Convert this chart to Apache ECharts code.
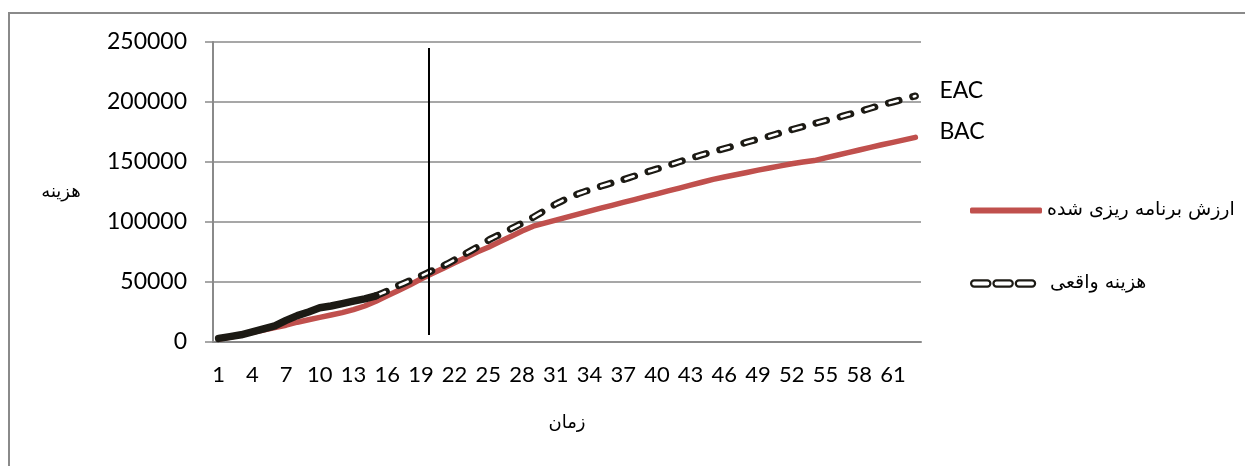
<!DOCTYPE html>
<html>
<head>
<meta charset="utf-8">
<script src="https://cdn.jsdelivr.net/npm/echarts@6/dist/echarts.min.js"></script>
<style>
  html, body { margin: 0; padding: 0; background: #fff; }
  #chart { width: 1245px; height: 466px; }
</style>
</head>
<body>
<div id="chart"></div>
<script>
// time periods 1..63
var periods = [];
for (var p = 1; p <= 63; p++) periods.push(String(p));

// planned value (BAC at the end)
var planned = [2500, 4000, 6000, 8000, 10000, 12000, 14000, 16500, 18500, 20500,
    22500, 24500, 27000, 30000, 34000, 38500, 43000, 47500, 52500, 57000,
    61500, 66000, 70500, 75000, 79000, 83500, 88000, 92500, 96500, 99000,
    101500, 104000, 106500, 109000, 111500, 113900, 116300, 118700, 121100, 123500,
    125900, 128300, 130700, 133100, 135500, 137500, 139400, 141300, 143200, 145000,
    146800, 148600, 150000, 151200, 153400, 155600, 157800, 160000, 162200, 164400,
    166400, 168400, 170500];

// actual cost so far, periods 1..15
var actual = [3000, 4500, 6000, 8500, 11000, 13500, 18000, 22000, 25000, 28500,
    30000, 32000, 34000, 36000, 38500];

// forecast (EAC), periods 15..63
var forecastStart = 15;
var forecast = [38500, 42500, 47000, 51000, 55000, 59500, 63500, 68500, 73800, 79000,
    84800, 89500, 94200, 99000, 104000, 109500, 115000, 119500, 123500, 126700,
    129800, 132600, 135300, 138300, 141300, 144200, 147100, 150200, 153100, 156000,
    158700, 161200, 163800, 166500, 169000, 171500, 174300, 177000, 179500, 182000,
    184500, 186800, 189500, 192000, 194800, 197500, 200000, 202500, 205000];

// vertical "today" marker, in period units and cost
var markerAt = 19.22;
var markerRange = [5800, 245000];

var yTicks = { min: 0, max: 250000, step: 50000 };

var nameRed = 'ارزش برنامه ریزی شده';
var nameDash = 'هزینه واقعی';

var forecastData = [];
for (var i = 1; i < forecastStart; i++) forecastData.push(null);
forecastData = forecastData.concat(forecast);

var red = '#c0504d', dark = '#1c1a14', gray = '#8a8a8a';
var font = 'Lato';
var faFont = 'DejaVu Sans';

// three hollow capsules for the dashed legend entry
var capsules = 'path://M3,0.5H16A3,3 0 0 1 16,6.5H3A3,3 0 0 1 3,0.5Z' +
    'M25,0.5H38A3,3 0 0 1 38,6.5H25A3,3 0 0 1 25,0.5Z' +
    'M47,0.5H60A3,3 0 0 1 60,6.5H47A3,3 0 0 1 47,0.5Z';

var chart = echarts.init(document.getElementById('chart'));
chart.setOption({
    animation: false,
    graphic: [{
        type: 'rect', silent: true,
        shape: { x: 9, y: 13, width: 1400, height: 600 },
        style: { fill: null, stroke: gray, lineWidth: 2 }
    }],
    grid: { left: 213, right: 324, top: 42, bottom: 124 },
    legend: [{
        data: [{ name: nameRed, icon: 'roundRect', itemStyle: { color: red, borderWidth: 0 } }],
        left: 965, top: 196,
        itemWidth: 72, itemHeight: 6, itemGap: 8,
        selectedMode: false,
        textStyle: { fontFamily: faFont, fontSize: 19, color: '#000' }
    }, {
        data: [{ name: nameDash, icon: capsules, itemStyle: { color: '#fff', borderColor: dark, borderWidth: 2.2 } }],
        left: 965, top: 269,
        itemWidth: 64, itemHeight: 7, itemGap: 10,
        selectedMode: false,
        textStyle: { fontFamily: faFont, fontSize: 19, color: '#000', padding: [0, 0, 0, 10] }
    }],
    xAxis: [{
        type: 'category',
        data: periods,
        boundaryGap: true,
        name: 'زمان',
        nameLocation: 'middle',
        nameGap: 81,
        nameTextStyle: { fontFamily: faFont, fontSize: 18, color: '#000', verticalAlign: 'middle' },
        axisLine: { lineStyle: { color: gray, width: 2 } },
        axisTick: { interval: 0, length: 8, lineStyle: { color: gray, width: 1.5 } },
        axisLabel: { interval: 2, margin: 22, fontFamily: font, fontSize: 22, color: '#000' }
    }, {
        type: 'value',
        min: 0, max: periods.length,
        show: false
    }],
    yAxis: {
        type: 'value',
        min: yTicks.min, max: yTicks.max, interval: yTicks.step,
        name: 'هزینه',
        nameLocation: 'middle',
        nameRotate: 0,
        nameGap: 152,
        nameTextStyle: { fontFamily: faFont, fontSize: 18, color: '#000', align: 'center' },
        axisLine: { show: true, lineStyle: { color: gray, width: 2 } },
        axisTick: { show: true, length: 8, lineStyle: { color: gray, width: 1.5 } },
        axisLabel: {
            margin: 26, fontFamily: font, fontSize: 23, color: '#000',
            formatter: function (v) { return String(v); }
        },
        splitLine: { lineStyle: { color: gray, width: 1.5 } }
    },
    series: [{
        name: nameRed,
        type: 'line',
        data: planned,
        symbol: 'none',
        z: 2,
        lineStyle: { color: red, width: 5.5, cap: 'round', join: 'round' },
        itemStyle: { color: red },
        endLabel: {
            show: true, formatter: 'BAC', distance: 24, offset: [0, -6],
            fontFamily: font, fontSize: 23, color: '#000'
        }
    }, {
        name: nameDash,
        type: 'line',
        data: forecastData,
        symbol: 'none',
        smooth: 0.15,
        z: 3,
        lineStyle: { color: dark, width: 7, type: [11, 14], cap: 'round', join: 'round' },
        itemStyle: { color: dark },
        endLabel: {
            show: true, formatter: 'EAC', distance: 24, offset: [0, -5],
            fontFamily: font, fontSize: 23, color: '#000'
        }
    }, {
        name: 'inner',
        type: 'line',
        data: forecastData,
        symbol: 'none',
        smooth: 0.15,
        z: 4,
        silent: true,
        lineStyle: { color: '#fff', width: 2.6, type: [8.4, 16.6], dashOffset: -1.3, cap: 'round' }
    }, {
        name: 'actual',
        type: 'line',
        data: actual,
        symbol: 'none',
        z: 5,
        lineStyle: { color: dark, width: 7.5, cap: 'round', join: 'round' }
    }, {
        name: 'marker',
        type: 'line',
        xAxisIndex: 1,
        data: [[markerAt, markerRange[0]], [markerAt, markerRange[1]]],
        symbol: 'none',
        z: 6,
        silent: true,
        lineStyle: { color: '#000', width: 2 }
    }]
});
</script>
</body>
</html>
